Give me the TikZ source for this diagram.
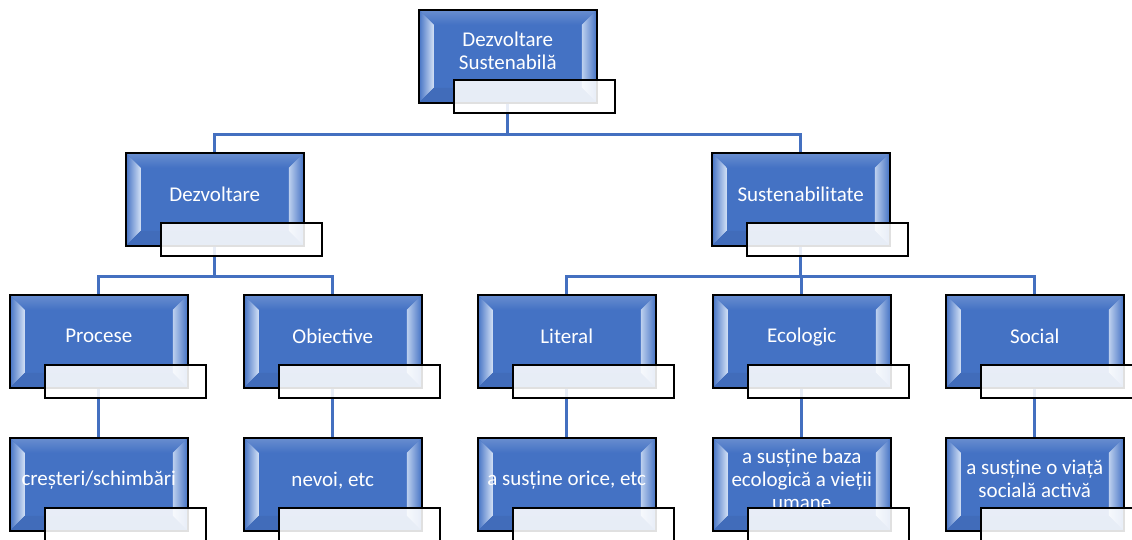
\documentclass[tikz,border=0pt]{standalone}
\usepackage{fontspec}
\setmainfont{Carlito}
\usetikzlibrary{calc,backgrounds}
\definecolor{boxblue}{HTML}{4472C4}
\definecolor{connblue}{HTML}{4470C0}
\definecolor{bevlight}{HTML}{D3E1F6}
\tikzset{
  bluebox/.style={draw=black, line width=1.5pt, fill=boxblue,
    minimum width=178pt, minimum height=93pt, inner sep=0pt, anchor=north west,
    path picture={
      \coordinate (pnw) at (path picture bounding box.north west);
      \coordinate (pne) at (path picture bounding box.north east);
      \coordinate (psw) at (path picture bounding box.south west);
      \coordinate (pse) at (path picture bounding box.south east);
      \fill[top color=boxblue!80!white, bottom color=boxblue]
        (pnw) -- (pne) -- ($(pne)+(-15,15)$) -- ($(pnw)+(15,15)$) -- cycle;
      \fill[left color=boxblue, right color=bevlight]
        (pnw) -- ($(pnw)+(15,15)$) -- ($(psw)+(15,-15)$) -- (psw) -- cycle;
      \fill[left color=bevlight!85!boxblue, right color=boxblue]
        (pne) -- ($(pne)+(-15,15)$) -- ($(pse)+(-15,-15)$) -- (pse) -- cycle;
      \fill[boxblue!95!black]
        (psw) -- ($(psw)+(15,-15)$) -- ($(pse)+(-15,-15)$) -- (pse) -- cycle;
    }},
  boxtext/.style={text=white, font=\fontsize{21}{23}\selectfont, align=center, inner sep=0pt},
  labelbox/.style={draw=black, line width=1.5pt, fill=white, fill opacity=0.88,
    minimum width=161pt, minimum height=33pt, inner sep=0pt, anchor=north west},
  conn/.style={draw=connblue, line width=3pt},
}
\newcommand\dsunit[4]{%
  \node[bluebox] (#1) at (#2,#3) {};
  \node[boxtext] (#1-t) at ($(#1.north)+(0,43.5)$) {#4\vphantom{p}};
  \node[labelbox] (#1-l) at ($(#1.north west)+(35,70)$) {};
}
\begin{document}
\begin{tikzpicture}[x=1pt,y=-1pt]
  \useasboundingbox (0,0) rectangle (1132,539);
  \clip (0,0) rectangle (1132,539);
  % level 1
  \dsunit{top}{418}{9}{Dezvoltare\\Sustenabilă}
  % level 2
  \dsunit{dez}{125}{152}{Dezvoltare}
  \dsunit{sus}{711}{152}{Sustenabilitate}
  % level 3
  \dsunit{pro}{9}{294}{Procese}
  \dsunit{obi}{243}{294}{Obiective}
  \dsunit{lit}{477}{294}{Literal}
  \dsunit{eco}{712}{294}{Ecologic}
  \dsunit{soc}{945}{294}{Social}
  % level 4
  \dsunit{cre}{9}{437}{creșteri/schimbări}
  \dsunit{nev}{243}{437}{nevoi, etc}
  \dsunit{ori}{477}{437}{a susține orice, etc}
  \dsunit{baz}{712}{437}{a susține baza\\ecologică a vieții\\umane}
  \dsunit{vis}{945}{437}{a susține o viață\\socială activă}
  % connectors
  \begin{scope}[on background layer]
    \draw[conn] (top.south) -- ++(0,31) -| (dez.north);
    \draw[conn] (top.south) -- ++(0,31) -| (sus.north);
    \draw[conn] (dez.south) -- ++(0,30) -| (pro.north);
    \draw[conn] (dez.south) -- ++(0,30) -| (obi.north);
    \draw[conn] (sus.south) -- ++(0,30) -| (lit.north);
    \draw[conn] (sus.south) -- ++(0,30) -| (eco.north);
    \draw[conn] (sus.south) -- ++(0,30) -| (soc.north);
    \draw[conn] (pro.south) -- (cre.north);
    \draw[conn] (obi.south) -- (nev.north);
    \draw[conn] (lit.south) -- (ori.north);
    \draw[conn] (eco.south) -- (baz.north);
    \draw[conn] (soc.south) -- (vis.north);
  \end{scope}
\end{tikzpicture}
\end{document}
